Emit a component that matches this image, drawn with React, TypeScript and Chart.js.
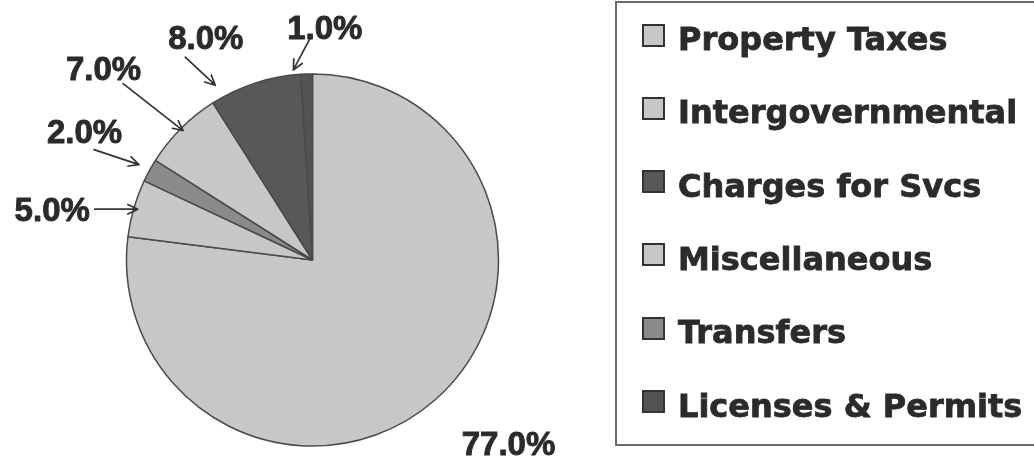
import React, { useEffect, useRef } from "react";
import { Chart, registerables } from "chart.js";

Chart.register(...registerables);

// ---- data (legend order) ----
const categories = [
  "Property Taxes",
  "Intergovernmental",
  "Charges for Svcs",
  "Miscellaneous",
  "Transfers",
  "Licenses & Permits",
];
const shares = [77, 5, 8, 7, 2, 1]; // percent
const sliceColors = ["#c7c7c7", "#c7c7c7", "#585858", "#c7c7c7", "#8a8a8a", "#535353"];
// drawing order of the slices, clockwise from 12 o'clock
const pieOrder = [0, 1, 4, 3, 2, 5];

// ---- callout layout (legend order): arrow tip on slice, arrow start, label offset ----
const calloutLayout = [
  { frac: 0.5, extra: 0, arrow: false, sx: 0, sy: 0, lx: 73, ly: 44 },
  { frac: 0.5, extra: -4, arrow: true, sx: -43, sy: 0, lx: -42.5, ly: 0 },
  { frac: 0.115, extra: 14, arrow: true, sx: -30, sy: -28, lx: 20.5, ly: -20 },
  { frac: 0.5, extra: -3, arrow: true, sx: -60, sy: -47, lx: -19.5, ly: -15.5 },
  { frac: 0.5, extra: 12, arrow: true, sx: -45, sy: -15, lx: -9.5, ly: -18 },
  { frac: -0.6, extra: 5, arrow: true, sx: 17, sy: -32, lx: 14.5, ly: -10.5 },
];

const TEXT_COLOR = "#2b2b2b";

const calloutPlugin = {
  id: "callouts",
  afterDatasetsDraw(chart: any) {
    const ctx = chart.ctx as CanvasRenderingContext2D;
    const meta = chart.getDatasetMeta(0);
    ctx.save();
    meta.data.forEach((arc: any, j: number) => {
      const k = pieOrder[j];
      const L = calloutLayout[k];
      const p = arc.getProps(["x", "y", "startAngle", "endAngle", "outerRadius"], true);
      const a = p.startAngle + L.frac * (p.endAngle - p.startAngle);
      const r = p.outerRadius + L.extra;
      const tx = p.x + r * Math.cos(a);
      const ty = p.y + r * Math.sin(a);
      const sx = tx + L.sx;
      const sy = ty + L.sy;
      if (L.arrow) {
        ctx.strokeStyle = "#333333";
        ctx.lineWidth = 1.7;
        ctx.lineCap = "round";
        ctx.lineJoin = "round";
        ctx.beginPath();
        ctx.moveTo(sx, sy);
        ctx.lineTo(tx, ty);
        const th = Math.atan2(ty - sy, tx - sx);
        const hl = 11;
        ctx.moveTo(tx - hl * Math.cos(th - 0.45), ty - hl * Math.sin(th - 0.45));
        ctx.lineTo(tx, ty);
        ctx.lineTo(tx - hl * Math.cos(th + 0.45), ty - hl * Math.sin(th + 0.45));
        ctx.stroke();
      }
      const fs = 33;
      ctx.font = `bold ${fs}px "Liberation Sans", Arial, sans-serif`;
      ctx.fillStyle = TEXT_COLOR;
      ctx.strokeStyle = TEXT_COLOR;
      ctx.lineWidth = 0.9;
      ctx.textAlign = "center";
      ctx.textBaseline = "alphabetic";
      const label = shares[k].toFixed(1) + "%";
      const lxp = sx + L.lx;
      const lyp = sy + L.ly + 0.358 * fs;
      ctx.fillText(label, lxp, lyp);
      ctx.strokeText(label, lxp, lyp);
    });
    ctx.restore();
  },
};

export default function App() {
  const canvasRef = useRef<HTMLCanvasElement | null>(null);

  useEffect(() => {
    const canvas = canvasRef.current;
    if (!canvas) return;
    const chart = new Chart(canvas, {
      type: "pie",
      data: {
        labels: pieOrder.map((k) => categories[k]),
        datasets: [
          {
            data: pieOrder.map((k) => shares[k]),
            backgroundColor: pieOrder.map((k) => sliceColors[k]),
            borderColor: "#4a4a4a",
            borderWidth: 1.5,
            radius: 186,
          } as any,
        ],
      },
      options: {
        responsive: false,
        animation: false,
        devicePixelRatio: 1,
        events: [],
        layout: { padding: { left: 126, right: 535, top: 73, bottom: 12 } },
        plugins: {
          legend: { display: false },
          tooltip: { enabled: false },
        },
      },
      plugins: [calloutPlugin],
    });
    return () => chart.destroy();
  }, []);

  const rowTop = 38.5;
  const rowStep = 73.3;

  return (
    <div
      style={{
        position: "fixed",
        left: 0,
        top: 0,
        width: 1034,
        height: 459,
        overflow: "hidden",
        background: "#ffffff",
      }}
    >
      <canvas
        ref={canvasRef}
        width={1034}
        height={459}
        style={{ position: "absolute", left: 0, top: 0, width: 1034, height: 459 }}
      />
      <div
        style={{
          position: "absolute",
          left: 615,
          top: 1,
          width: 480,
          height: 445,
          border: "2px solid #6a6a6a",
          boxSizing: "border-box",
        }}
      />
      {categories.map((name, i) => {
        const cy = rowTop + rowStep * i;
        return (
          <React.Fragment key={name}>
            <div
              style={{
                position: "absolute",
                left: 642,
                top: cy - 15,
                width: 23,
                height: 23,
                boxSizing: "border-box",
                border: "2px solid #333333",
                background: sliceColors[i],
              }}
            />
            <div
              style={{
                position: "absolute",
                left: 678,
                top: cy - 15.5,
                font: 'bold 32px "DejaVu Sans", sans-serif',
                lineHeight: "32px",
                color: TEXT_COLOR,
                whiteSpace: "nowrap",
                WebkitTextStroke: `0.8px ${TEXT_COLOR}`,
              }}
            >
              {name}
            </div>
          </React.Fragment>
        );
      })}
    </div>
  );
}
